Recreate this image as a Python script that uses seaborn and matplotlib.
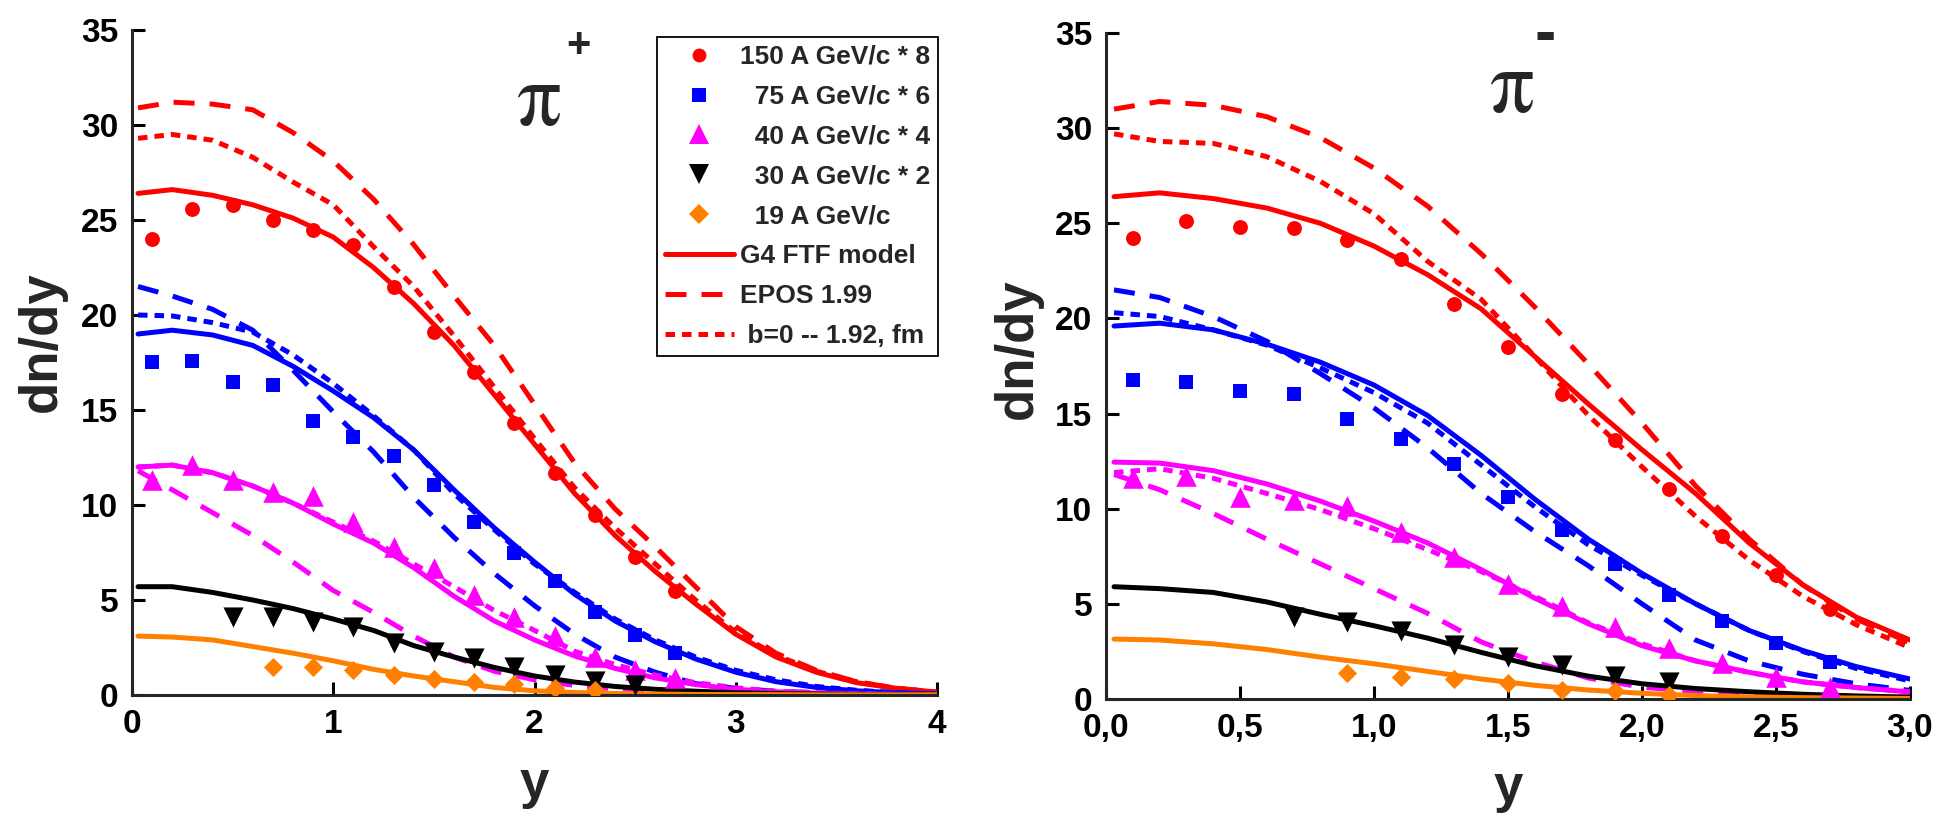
import numpy as np
import pandas as pd
import matplotlib
matplotlib.use("Agg")
import matplotlib.pyplot as plt
import seaborn as sns
from matplotlib.lines import Line2D
from matplotlib.ticker import FuncFormatter, FixedLocator

# ---------------- data: pi+ panel (left) ----------------
x_model_L = [0.03, 0.2, 0.4, 0.6, 0.8, 1.0, 1.2, 1.4, 1.6, 1.8, 2.0,
             2.2, 2.4, 2.6, 2.8, 3.0, 3.2, 3.4, 3.6, 3.8, 4.0]
red_ftf_L = [26.4, 26.6, 26.3, 25.8, 25.1, 24.1, 22.5, 20.6, 18.4, 15.8, 13.2,
             10.6, 8.4, 6.5, 4.8, 3.2, 2.0, 1.2, 0.65, 0.35, 0.15]
red_epos_L = [30.9, 31.2, 31.1, 30.8, 29.6, 28.1, 26.1, 23.7, 21.0, 18.4, 15.3,
              12.2, 9.8, 7.8, 5.7, 3.6, 2.2, 1.3, 0.7, 0.35, 0.15]
red_b0_L = [29.3, 29.5, 29.2, 28.3, 27.0, 25.8, 23.6, 21.5, 18.9, 16.2, 13.5,
            10.9, 8.8, 6.9, 5.0, 3.3, 2.1, 1.25, 0.7, 0.35, 0.15]
blue_ftf_L = [19.0, 19.2, 18.95, 18.4, 17.3, 16.0, 14.6, 12.9, 10.8, 8.8, 7.0,
              5.3, 3.9, 2.8, 1.9, 1.2, 0.7, 0.4, 0.22, 0.12, 0.05]
blue_epos_L = [21.5, 21.0, 20.3, 19.2, 17.1, 14.9, 12.8, 10.4, 8.3, 6.4, 4.7,
               3.2, 2.0, 1.2, 0.6, 0.35, 0.2, 0.12, 0.07, 0.04, 0.02]
blue_b0_L = [20.0, 19.95, 19.6, 19.1, 17.9, 16.4, 14.7, 12.9, 10.6, 8.7, 6.9,
             5.4, 4.0, 2.9, 2.0, 1.3, 0.8, 0.45, 0.25, 0.12, 0.05]
mag_ftf_L = [12.0, 12.1, 11.7, 11.0, 10.1, 9.0, 8.0, 6.7, 5.2, 3.9, 2.9,
             2.05, 1.4, 0.9, 0.55, 0.3, 0.17, 0.1, 0.05, 0.03, 0.02]
mag_epos_L = [11.8, 10.8, 9.6, 8.4, 7.0, 5.5, 4.35, 3.1, 2.0, 1.25, 0.8,
              0.5, 0.32, 0.2, 0.12, 0.08, 0.05, 0.04, 0.03, 0.02, 0.02]
mag_b0_L = [12.0, 12.1, 11.7, 11.0, 10.1, 9.1, 8.1, 6.9, 5.7, 4.45, 3.4,
            2.3, 1.6, 1.05, 0.65, 0.38, 0.2, 0.12, 0.06, 0.03, 0.02]
blk_ftf_L = [5.7, 5.7, 5.4, 5.0, 4.55, 4.0, 3.4, 2.6, 2.0, 1.45, 1.0,
             0.68, 0.45, 0.3, 0.2, 0.12, 0.08, 0.05, 0.03, 0.02, 0.01]
org_ftf_L = [3.1, 3.05, 2.9, 2.55, 2.2, 1.8, 1.35, 1.0, 0.7, 0.4, 0.22,
             0.13, 0.08, 0.05, 0.03, 0.02, 0.02, 0.01, 0.01, 0.01, 0.01]

x_pts_a = [0.1, 0.3, 0.5, 0.7, 0.9, 1.1, 1.3, 1.5, 1.7, 1.9, 2.1, 2.3, 2.5, 2.7]
p150_L = [24.0, 25.6, 25.8, 25.0, 24.5, 23.7, 21.5, 19.1, 17.0, 14.3, 11.7, 9.5, 7.25, 5.5]
p75_L = [17.55, 17.6, 16.5, 16.3, 14.4, 13.6, 12.6, 11.07, 9.1, 7.45, 6.0, 4.35, 3.14, 2.19]
p40_L = [11.3, 12.1, 11.3, 10.7, 10.5, 9.1, 7.8, 6.66, 5.26, 4.1, 3.1, 2.0, 1.3, 0.9]
x_p30_L = [0.5, 0.7, 0.9, 1.1, 1.3, 1.5, 1.7, 1.9, 2.1, 2.3, 2.5]
p30_L = [4.13, 4.13, 3.85, 3.57, 2.72, 2.25, 1.97, 1.5, 1.03, 0.74, 0.52]
x_p19_L = [0.7, 0.9, 1.1, 1.3, 1.5, 1.7, 1.9, 2.1, 2.3]
p19_L = [1.5, 1.5, 1.31, 1.03, 0.84, 0.66, 0.56, 0.38, 0.25]

# ---------------- data: pi- panel (right) ----------------
x_model_R = [0.03, 0.2, 0.4, 0.6, 0.8, 1.0, 1.2, 1.4, 1.6, 1.8, 2.0,
             2.2, 2.4, 2.6, 2.8, 3.0]
red_ftf_R = [26.4, 26.6, 26.3, 25.8, 25.0, 23.8, 22.3, 20.5, 18.0, 15.5, 13.1,
             10.8, 8.2, 6.0, 4.3, 3.1]
red_epos_R = [31.0, 31.4, 31.2, 30.6, 29.5, 27.9, 25.9, 23.4, 20.6, 17.6, 14.5,
              11.2, 8.4, 6.0, 4.2, 2.95]
red_b0_R = [29.7, 29.3, 29.2, 28.5, 27.2, 25.5, 23.0, 21.0, 18.0, 14.9, 12.2,
            9.6, 7.3, 5.4, 3.9, 2.7]
blue_ftf_R = [19.6, 19.75, 19.4, 18.65, 17.7, 16.5, 14.9, 12.8, 10.5, 8.4, 6.6,
              5.0, 3.6, 2.55, 1.7, 1.05]
blue_epos_R = [21.5, 21.1, 20.1, 18.8, 17.1, 15.3, 13.2, 10.8, 8.8, 7.0, 5.0,
               3.1, 2.0, 1.3, 0.8, 0.45]
blue_b0_R = [20.3, 20.1, 19.4, 18.6, 17.4, 16.1, 14.5, 12.3, 10.1, 8.1, 6.5,
             5.0, 3.6, 2.5, 1.6, 0.95]
mag_ftf_R = [12.45, 12.4, 12.0, 11.3, 10.4, 9.35, 8.2, 6.8, 5.3, 3.95, 2.8,
             2.0, 1.4, 0.9, 0.6, 0.37]
mag_epos_R = [11.8, 11.0, 9.75, 8.4, 7.1, 5.8, 4.5, 3.0, 1.95, 1.1, 0.62,
              0.4, 0.28, 0.2, 0.14, 0.1]
mag_b0_R = [11.9, 12.1, 11.6, 10.8, 9.95, 8.95, 7.85, 6.7, 5.4, 4.0, 2.9,
            2.0, 1.4, 0.9, 0.6, 0.38]
blk_ftf_R = [5.9, 5.8, 5.6, 5.1, 4.45, 3.85, 3.2, 2.45, 1.75, 1.2, 0.8,
             0.55, 0.38, 0.25, 0.16, 0.1]
org_ftf_R = [3.15, 3.1, 2.9, 2.6, 2.2, 1.85, 1.45, 1.05, 0.72, 0.47, 0.3,
             0.18, 0.11, 0.07, 0.05, 0.03]

p150_R = [24.24, 25.14, 24.79, 24.73, 24.13, 23.14, 20.76, 18.52, 16.02, 13.59, 11.04, 8.57, 6.52, 4.74]
p75_R = [16.79, 16.65, 16.19, 16.02, 14.74, 13.64, 12.35, 10.63, 8.9, 7.12, 5.48, 4.11, 2.96, 1.92]
p40_R = [11.59, 11.72, 10.63, 10.44, 10.16, 8.79, 7.48, 6.05, 4.88, 3.78, 2.68, 1.9, 1.15, 0.65]
x_p30_R = [0.7, 0.9, 1.1, 1.3, 1.5, 1.7, 1.9, 2.1]
p30_R = [4.33, 4.05, 3.56, 2.82, 2.19, 1.78, 1.23, 0.9]
x_p19_R = [0.9, 1.1, 1.3, 1.5, 1.7, 1.9, 2.1]
p19_R = [1.37, 1.18, 1.04, 0.82, 0.49, 0.41, 0.22]

legend_labels = ["150 A GeV/c * 8", "  75 A GeV/c * 6", "  40 A GeV/c * 4",
                 "  30 A GeV/c * 2", "  19 A GeV/c", "G4 FTF model",
                 "EPOS 1.99", " b=0 -- 1.92, fm"]
xticks_L = [0, 1, 2, 3, 4]
xticks_R = [0.0, 0.5, 1.0, 1.5, 2.0, 2.5, 3.0]
yticks = [0, 5, 10, 15, 20, 25, 30, 35]

# ---------------- style ----------------
RED, BLUE, MAG, BLK, ORG = "#ff0000", "#0000ff", "#ff00ff", "#000000", "#ff8000"
LW = 3.6
SOLID = "-"
DASH = (0, (4.2, 3.0))
DOT = (0, (1.9, 1.4))

sns.set_style("ticks")
plt.rcParams["font.family"] = ["Liberation Sans", "DejaVu Sans"]
plt.rcParams["font.weight"] = "bold"
plt.rcParams["axes.linewidth"] = 2.2

W, H = 1945, 814
fig = plt.figure(figsize=(W / 100, H / 100), dpi=100)


def rect(l, t, r, b):
    return [l / W, 1 - b / H, (r - l) / W, (b - t) / H]


axL = fig.add_axes(rect(132, 30, 937, 695))
axR = fig.add_axes(rect(1106, 33, 1910, 699))


def draw(ax, xg, curves, points):
    for ys, color, ls in curves:
        sns.lineplot(x=xg, y=ys, ax=ax, color=color, linewidth=LW, linestyle=ls,
                     estimator=None, sort=False, legend=False, zorder=2)
    for xs, ys, color, marker, s in points:
        sns.scatterplot(x=xs, y=ys, ax=ax, color=color, marker=marker, s=s,
                        linewidth=0, zorder=3, legend=False)


MS = {"o": 115, "s": 105, "^": 220, "v": 210, "D": 95}

draw(axL, x_model_L,
     [(red_epos_L, RED, DASH), (red_b0_L, RED, DOT), (red_ftf_L, RED, SOLID),
      (blue_epos_L, BLUE, DASH), (blue_b0_L, BLUE, DOT), (blue_ftf_L, BLUE, SOLID),
      (mag_epos_L, MAG, DASH), (mag_b0_L, MAG, DOT), (mag_ftf_L, MAG, SOLID),
      (blk_ftf_L, BLK, SOLID), (org_ftf_L, ORG, SOLID)],
     [(x_pts_a, p150_L, RED, "o", MS["o"]), (x_pts_a, p75_L, BLUE, "s", MS["s"]),
      (x_pts_a, p40_L, MAG, "^", MS["^"]), (x_p30_L, p30_L, BLK, "v", MS["v"]),
      (x_p19_L, p19_L, ORG, "D", MS["D"])])

draw(axR, x_model_R,
     [(red_epos_R, RED, DASH), (red_b0_R, RED, DOT), (red_ftf_R, RED, SOLID),
      (blue_epos_R, BLUE, DASH), (blue_b0_R, BLUE, DOT), (blue_ftf_R, BLUE, SOLID),
      (mag_epos_R, MAG, DASH), (mag_b0_R, MAG, DOT), (mag_ftf_R, MAG, SOLID),
      (blk_ftf_R, BLK, SOLID), (org_ftf_R, ORG, SOLID)],
     [(x_pts_a, p150_R, RED, "o", MS["o"]), (x_pts_a, p75_R, BLUE, "s", MS["s"]),
      (x_pts_a, p40_R, MAG, "^", MS["^"]), (x_p30_R, p30_R, BLK, "v", MS["v"]),
      (x_p19_R, p19_R, ORG, "D", MS["D"])])

for ax, xmax, xt in [(axL, 4, xticks_L), (axR, 3, xticks_R)]:
    ax.set_xlim(0, xmax)
    ax.set_ylim(0, 35)
    ax.xaxis.set_major_locator(FixedLocator(xt))
    ax.yaxis.set_major_locator(FixedLocator(yticks))
    ax.set_xlabel("")
    ax.set_ylabel("")
    sns.despine(ax=ax)
    ax.tick_params(direction="in", length=9.5, width=2.2, labelsize=24, pad=10,
                   colors="black")
    for lab in ax.get_xticklabels() + ax.get_yticklabels():
        lab.set_fontweight("bold")
    ax.set_facecolor("white")

axL.xaxis.set_major_formatter(FuncFormatter(lambda v, p: f"{int(round(v))}"))
axR.xaxis.set_major_formatter(FuncFormatter(lambda v, p: f"{v:.1f}".replace(".", ",")))
for ax in (axL, axR):
    ax.yaxis.set_major_formatter(FuncFormatter(lambda v, p: f"{int(round(v))}"))


def ft(x, y, s, **kw):
    return fig.text(x / W, 1 - y / H, s, **kw)


# axis labels
ft(42, 342, "dn/dy", rotation=90, ha="center", va="center", fontsize=38, fontweight="bold")
ft(1018, 349, "dn/dy", rotation=90, ha="center", va="center", fontsize=38, fontweight="bold")
ft(534, 798, "y", ha="center", va="baseline", fontsize=38, fontweight="bold")
ft(1508, 802, "y", ha="center", va="baseline", fontsize=38, fontweight="bold")

# panel titles
ft(538, 125, "π", ha="center", va="baseline", fontsize=64,
   family=["STIXGeneral", "DejaVu Serif"], fontweight="normal")
ft(578, 46, "+", ha="center", va="center", fontsize=30, fontweight="bold")
ft(1511, 112, "π", ha="center", va="baseline", fontsize=64,
   family=["STIXGeneral", "DejaVu Serif"], fontweight="normal")
ft(1545, 36, "-", ha="center", va="center", fontsize=46, fontweight="bold")

# legend
handles = [
    Line2D([], [], ls="none", marker="o", color=RED, markersize=10, markeredgewidth=0),
    Line2D([], [], ls="none", marker="s", color=BLUE, markersize=10, markeredgewidth=0),
    Line2D([], [], ls="none", marker="^", color=MAG, markersize=14, markeredgewidth=0),
    Line2D([], [], ls="none", marker="v", color=BLK, markersize=14, markeredgewidth=0),
    Line2D([], [], ls="none", marker="D", color=ORG, markersize=10, markeredgewidth=0),
    Line2D([], [], color=RED, lw=LW, ls=SOLID),
    Line2D([], [], color=RED, lw=LW, ls=DASH),
    Line2D([], [], color=RED, lw=LW, ls=DOT),
]
leg = fig.legend(handles, legend_labels, loc="upper left",
                 bbox_to_anchor=(657 / W, 1 - 37 / H), bbox_transform=fig.transFigure,
                 borderaxespad=0, borderpad=0.3, labelspacing=0.6, handlelength=2.6,
                 handletextpad=0.23, fancybox=False, frameon=True,
                 prop={"weight": "bold", "size": 19})
leg.get_frame().set_edgecolor("black")
leg.get_frame().set_linewidth(1.3)
leg.get_frame().set_facecolor("white")
leg.get_frame().set_alpha(1)

fig.savefig("out.png", dpi=100, facecolor="white")
